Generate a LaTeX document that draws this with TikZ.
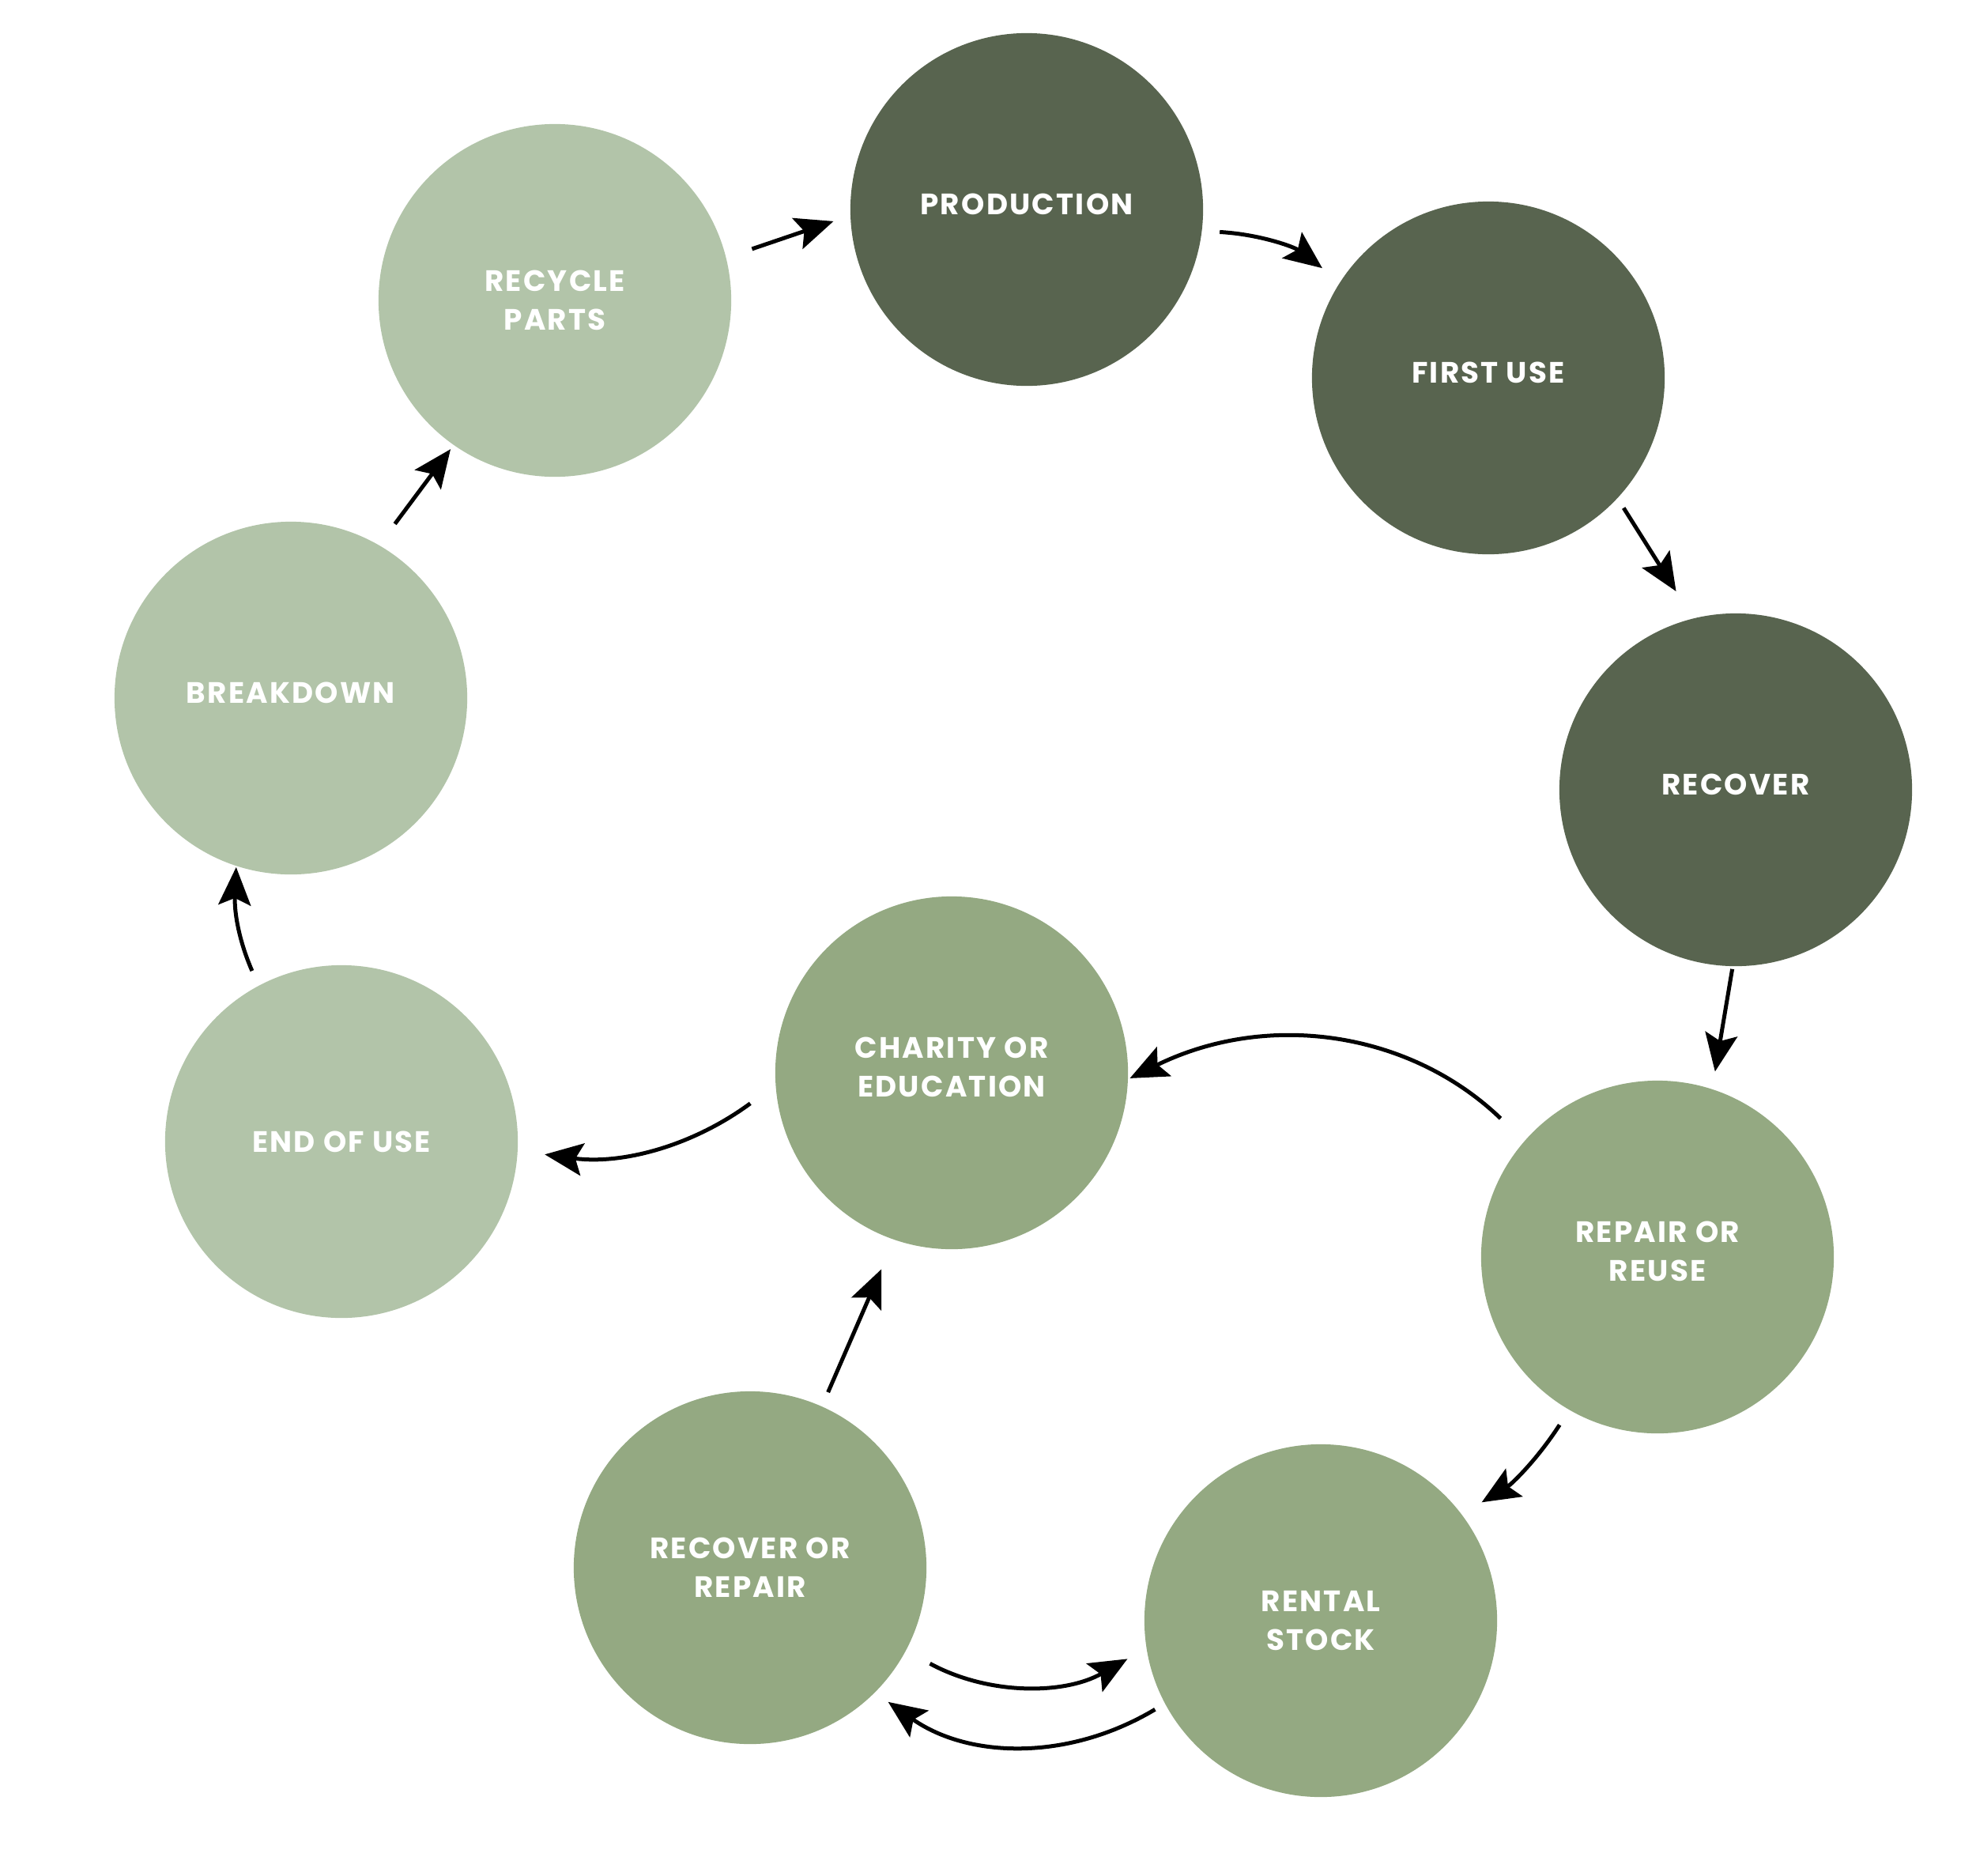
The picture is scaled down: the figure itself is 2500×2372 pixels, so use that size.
\documentclass[tikz,border=0pt]{standalone}
\usepackage{fontspec}
\setmainfont{Poppins}[LetterSpace=6]
\usepackage{tikz}
\usetikzlibrary{arrows.meta}
\definecolor{stagedark}{HTML}{58644F}
\definecolor{stagemid}{HTML}{94A982}
\definecolor{stagelight}{HTML}{B2C4A9}

\begin{document}
\begin{tikzpicture}[
    x=0.01cm, y=0.01cm,
    stage/.style={
        circle, minimum size=4.46cm, inner sep=0pt, align=center,
        text=white, font=\bfseries\fontsize{10.6}{14}\selectfont
      },
    darkstage/.style={stage, fill=stagedark},
    midstage/.style={stage, fill=stagemid},
    lightstage/.style={stage, fill=stagelight},
    lifted/.style={text depth=0.14cm},
    flow/.style={-{Stealth[length=0.48cm, width=0.41cm, inset=0.09cm]}, line width=0.05cm}
  ]
  \useasboundingbox (0,0) rectangle (2500,-2372);

  % outer loop
  \node[lightstage] (recycle) at (702,-380) {RECYCLE\\PARTS};
  \node[darkstage, lifted] (production) at (1299,-265) {PRODUCTION};
  \node[darkstage, lifted] (firstuse) at (1883,-478) {FIRST USE};
  \node[darkstage, lifted] (recover) at (2196,-999) {RECOVER};
  \node[midstage, lifted] (repair) at (2097,-1590) {REPAIR OR\\REUSE};
  \node[midstage] (rental) at (1671,-2050) {RENTAL\\STOCK};
  \node[midstage] (recrepair) at (949,-1983) {RECOVER OR\\REPAIR};
  \node[midstage, lifted] (charity) at (1204,-1357) {CHARITY OR\\EDUCATION};
  \node[lightstage] (endofuse) at (432,-1444) {END OF USE};
  \node[lightstage, lifted] (breakdown) at (368,-883) {BREAKDOWN};

  \draw[flow, shorten <=0.34cm, shorten >=0.22cm] (recycle.14.8) -- (production.182.9);
  \draw[flow, shorten <=0.22cm, shorten >=0.28cm] (production.-7.5) to[bend left=17] (firstuse.147);
  \draw[flow, shorten <=0.14cm, shorten >=0.40cm] (firstuse.-43.2) -- (recover.104.1);
  \draw[flow, shorten <=0.03cm, shorten >=0.22cm] (recover.-91.8) -- (repair.72.8);
  \draw[flow, shorten <=0.41cm, shorten >=0.02cm] (repair.139) to[bend right=35] (charity.-2);
  \draw[flow, shorten <=0.22cm, shorten >=0.29cm] (repair.-120) to[bend left=13] (rental.37);
  \draw[flow, shorten <=0.14cm, shorten >=0.20cm] (rental.-152) to[bend left=33] (recrepair.-45);
  \draw[flow, shorten <=0.34cm, shorten >=0.27cm] (recrepair.-28) to[bend right=29] (rental.-171.3);
  \draw[flow, shorten <=0.19cm, shorten >=0.40cm] (recrepair.66.5) -- (charity.-109.6);

  % back to the start
  \draw[flow, shorten <=0.39cm, shorten >=0.34cm] (charity.-176.6) to[bend left=22] (endofuse.-3.2);
  \draw[flow, shorten <=0.20cm, shorten >=0.01cm] (endofuse.118.5) to[bend left=13] (breakdown.-108);
  \draw[flow, shorten <=0.33cm, shorten >=0.06cm] (breakdown.60.4) -- (recycle.-125.3);

\end{tikzpicture}
\end{document}
